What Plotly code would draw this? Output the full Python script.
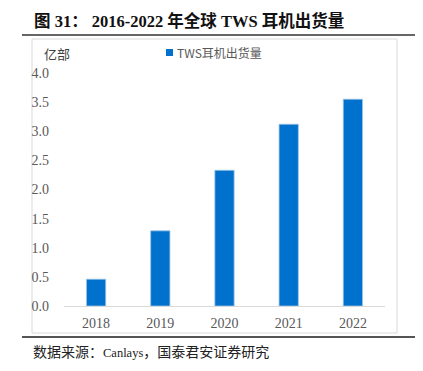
import plotly.graph_objects as go

years = ["2018", "2019", "2020", "2021", "2022"]
shipments = [0.46, 1.29, 2.33, 3.12, 3.55]
series_name = "TWS耳机出货量"
y_ticks = [0.0, 0.5, 1.0, 1.5, 2.0, 2.5, 3.0, 3.5, 4.0]

# page body has an 8px margin; the figure occupies reference px 8..423 x 8..371
OFF = 8
W, H = 423 - OFF, 371 - OFF
L, R, T, B = 64, 385, 73, 306  # plot area in reference pixels

def px(x):
    return (x - L) / (R - L)

def py(y):
    return (B - y) / (B - T)

serif = "Liberation Serif, Times New Roman, Noto Sans CJK SC, serif"
cjk = "Liberation Serif, Noto Sans CJK SC, sans-serif"
gray = "#595959"
blue = "#0072CE"

fig = go.Figure()
fig.add_trace(go.Bar(
    x=years, y=shipments, name=series_name,
    marker=dict(color=blue, line=dict(color="#9DC3E6", width=0.8)),
    width=0.3, showlegend=False,
))

fig.update_layout(
    width=W, height=H,
    margin=dict(l=L - OFF, r=423 - R, t=T - OFF, b=371 - B, pad=0),
    paper_bgcolor="white", plot_bgcolor="white",
    font=dict(family=serif, size=14, color=gray),
    xaxis=dict(
        showgrid=False, showline=True, linecolor="#D9D9D9", linewidth=1,
        ticks="", tickfont=dict(family=serif, size=14, color=gray),
        ticklabelstandoff=4, zeroline=False,
    ),
    yaxis=dict(
        range=[0, 4], tickvals=y_ticks,
        ticktext=[f"{v:.1f}" for v in y_ticks],
        showgrid=False, showline=False, zeroline=False, ticks="",
        tickfont=dict(family=serif, size=14, color=gray),
        ticklabelstandoff=14,
    ),
)

shapes = [
    dict(type="rect", xref="paper", yref="paper",
         x0=px(32), x1=px(397), y0=py(333), y1=py(39),
         line=dict(color="#D9D9D9", width=1), fillcolor="rgba(0,0,0,0)", layer="below"),
    dict(type="line", xref="paper", yref="paper",
         x0=px(22), x1=px(415), y0=py(35), y1=py(35),
         line=dict(color="#333333", width=1.5)),
    dict(type="line", xref="paper", yref="paper",
         x0=px(22), x1=px(415), y0=py(337), y1=py(337),
         line=dict(color="#555555", width=2)),
    dict(type="rect", xref="paper", yref="paper",
         x0=px(166), x1=px(173), y0=py(56), y1=py(49),
         line=dict(width=0), fillcolor=blue),
]
fig.update_layout(shapes=shapes)

annotations = [
    dict(text="<b>图 31： 2016-2022 年全球 TWS 耳机出货量</b>",
         xref="paper", yref="paper", x=px(32), y=py(21),
         xanchor="left", yanchor="middle", showarrow=False,
         font=dict(family=cjk, size=16.5, color="#111111")),
    dict(text=series_name, xref="paper", yref="paper", x=px(175), y=py(52.5),
         xanchor="left", yanchor="middle", showarrow=False,
         font=dict(family="Noto Sans CJK SC, sans-serif", size=12, color=gray)),
    dict(text="亿部", xref="paper", yref="paper", x=px(42), y=py(53),
         xanchor="left", yanchor="middle", showarrow=False,
         font=dict(family="Noto Sans CJK SC, sans-serif", size=13, color="#404040")),
    dict(text="数据来源：<span style='font-size:12.5px'>Canlays</span>，国泰君安证券研究",
         xref="paper", yref="paper", x=px(31), y=py(352),
         xanchor="left", yanchor="middle", showarrow=False,
         font=dict(family=cjk, size=14, color="#222222")),
]
fig.update_layout(annotations=annotations)

fig.write_html("out.html")
